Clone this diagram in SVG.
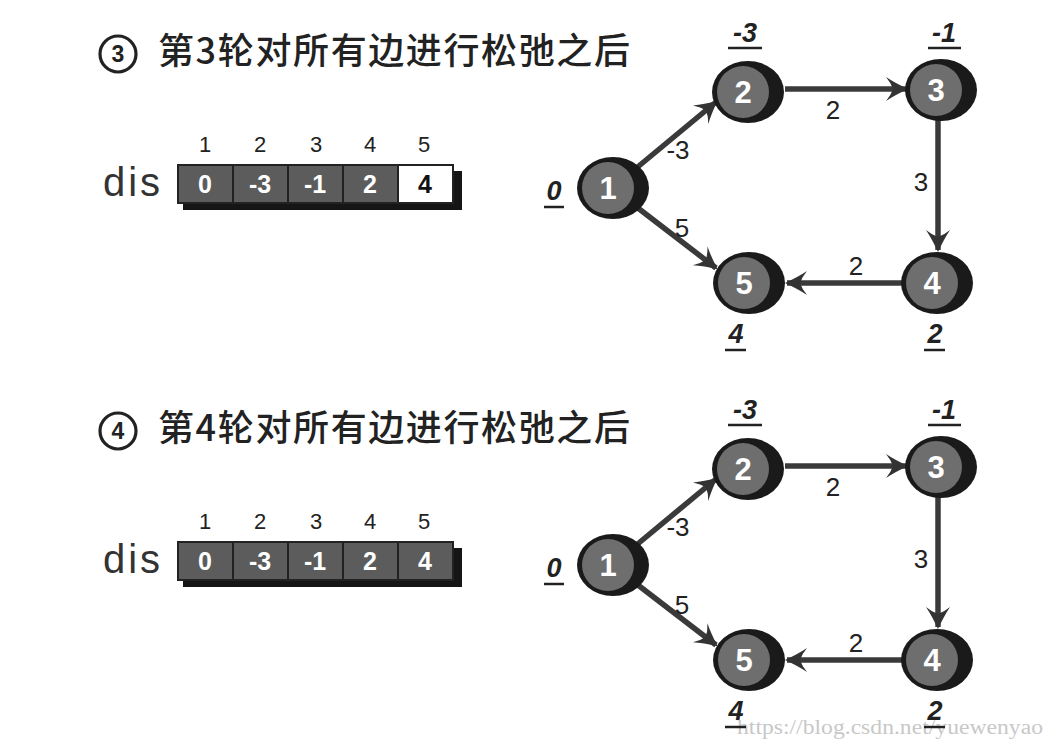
<svg xmlns="http://www.w3.org/2000/svg" width="1056" height="749" viewBox="0 0 1056 749">
<style>
.title{font-family:"Noto Sans CJK SC","Noto Sans",sans-serif;font-size:36px;font-weight:500;fill:#222}
.circnum{fill:none;stroke:#222;stroke-width:3.2}
.circtxt{font-family:"Liberation Sans",Arial,sans-serif;font-weight:bold;font-size:23px;fill:#222;text-anchor:middle}
.dis{font-family:"Liberation Sans",Arial,sans-serif;font-size:40px;fill:#333}
.idx{font-family:"Liberation Sans",Arial,sans-serif;font-size:22px;fill:#222;text-anchor:middle}
.cell{fill:#5c5c5c;stroke:#222;stroke-width:2}
.cellw{fill:#fff;stroke:#222;stroke-width:2}
.cshadow{fill:#151515}
.ctxt{font-family:"Liberation Sans",Arial,sans-serif;font-weight:bold;font-size:25px;fill:#fff;text-anchor:middle}
.ctxtb{font-family:"Liberation Sans",Arial,sans-serif;font-weight:bold;font-size:25px;fill:#111;text-anchor:middle}
.nshadow{fill:#1a1a1a}
.nfill{fill:#6e6e6e}
.nlabel{font-family:"Liberation Sans",Arial,sans-serif;font-weight:bold;font-size:31px;fill:#fff;text-anchor:middle}
.edge{stroke:#3a3a3a;stroke-width:5.5;fill:none;marker-end:url(#arr)}
.elabel{font-family:"Liberation Sans",Arial,sans-serif;font-size:26px;fill:#222;text-anchor:middle}
.val{font-family:"Liberation Sans",Arial,sans-serif;font-weight:bold;font-style:italic;font-size:27px;fill:#222;text-anchor:middle}
.ul{stroke:#222;stroke-width:2.5}
.wm{font-family:"Liberation Serif",serif;font-size:20px;fill:#c8c8c8}
</style>
<defs>
<marker id="arr" markerUnits="userSpaceOnUse" markerWidth="26" markerHeight="28" refX="20" refY="13" orient="auto">
<path d="M0,1 Q9,7 22,13 Q9,19 0,25 Q5,19 7,13 Q5,7 0,1 Z" fill="#333"/>
</marker>
</defs>
<rect width="1056" height="749" fill="#fff"/>

<text class="wm" x="737" y="734" textLength="306" lengthAdjust="spacingAndGlyphs">https://blog.csdn.net/yuewenyao</text>

<g id="panel-3">
  <g id="title-3">
    <circle class="circnum" cx="118" cy="54" r="18"/>
    <text class="circtxt" x="118" y="62">3</text>
    <text class="title" x="158" y="64" textLength="472" lengthAdjust="spacing">第3轮对所有边进行松弛之后</text>
  </g>
  <g id="dis-3">
    <text class="dis" x="103" y="196" textLength="57" lengthAdjust="spacing">dis</text>
    <text class="idx" x="205" y="152">1</text>
    <text class="idx" x="260" y="152">2</text>
    <text class="idx" x="316" y="152">3</text>
    <text class="idx" x="370" y="152">4</text>
    <text class="idx" x="424" y="152">5</text>
    <rect class="cshadow" x="183" y="171" width="279" height="39"/>
    <rect class="cell" x="178" y="165" width="55" height="38"/>
    <rect class="cell" x="233" y="165" width="55" height="38"/>
    <rect class="cell" x="288" y="165" width="55" height="38"/>
    <rect class="cell" x="343" y="165" width="55" height="38"/>
    <rect class="cellw" x="398" y="165" width="55" height="38"/>
    <text class="ctxt" x="205" y="193">0</text>
    <text class="ctxt" x="260" y="193">-3</text>
    <text class="ctxt" x="315" y="193">-1</text>
    <text class="ctxt" x="370" y="193">2</text>
    <text class="ctxtb" x="425" y="193">4</text>
  </g>
  <g id="edges-3">
    <line class="edge" x1="634" y1="170" x2="716" y2="102"/>
    <line class="edge" x1="785" y1="89" x2="906" y2="89"/>
    <line class="edge" x1="938" y1="120" x2="938" y2="250"/>
    <line class="edge" x1="902" y1="283" x2="787" y2="283"/>
    <line class="edge" x1="634" y1="205" x2="716" y2="268"/>
    <text class="elabel" x="678" y="159">-3</text>
    <text class="elabel" x="833" y="119">2</text>
    <text class="elabel" x="682" y="237">5</text>
    <text class="elabel" x="921" y="191">3</text>
    <text class="elabel" x="856" y="275">2</text>
  </g>
  <g id="n1-3">
    <ellipse class="nshadow" cx="613" cy="188" rx="36" ry="31"/>
    <circle class="nfill" cx="608" cy="188" r="26"/>
    <text class="nlabel" x="608" y="199">1</text>
    <text class="val" x="554" y="200">0</text>
    <line class="ul" x1="544" y1="207" x2="564" y2="207"/>
  </g>
  <g id="n2-3">
    <ellipse class="nshadow" cx="748" cy="92" rx="36" ry="31"/>
    <circle class="nfill" cx="743" cy="92" r="26"/>
    <text class="nlabel" x="743" y="103">2</text>
    <text class="val" x="745" y="42">-3</text>
    <line class="ul" x1="728" y1="48" x2="762" y2="48"/>
  </g>
  <g id="n3-3">
    <ellipse class="nshadow" cx="941" cy="90" rx="36" ry="31"/>
    <circle class="nfill" cx="936" cy="90" r="26"/>
    <text class="nlabel" x="936" y="101">3</text>
    <text class="val" x="944" y="42">-1</text>
    <line class="ul" x1="928" y1="48" x2="961" y2="48"/>
  </g>
  <g id="n4-3">
    <ellipse class="nshadow" cx="937" cy="283" rx="36" ry="31"/>
    <circle class="nfill" cx="932" cy="283" r="26"/>
    <text class="nlabel" x="932" y="294">4</text>
    <text class="val" x="935" y="343">2</text>
    <line class="ul" x1="924" y1="350" x2="945" y2="350"/>
  </g>
  <g id="n5-3">
    <ellipse class="nshadow" cx="749" cy="283" rx="36" ry="31"/>
    <circle class="nfill" cx="744" cy="283" r="26"/>
    <text class="nlabel" x="744" y="294">5</text>
    <text class="val" x="736" y="343">4</text>
    <line class="ul" x1="725" y1="350" x2="746" y2="350"/>
  </g>
</g>

<g id="panel-4" transform="translate(0,377)">
  <g id="title-4">
    <circle class="circnum" cx="118" cy="54" r="18"/>
    <text class="circtxt" x="118" y="62">4</text>
    <text class="title" x="158" y="64" textLength="472" lengthAdjust="spacing">第4轮对所有边进行松弛之后</text>
  </g>
  <g id="dis-4">
    <text class="dis" x="103" y="196" textLength="57" lengthAdjust="spacing">dis</text>
    <text class="idx" x="205" y="152">1</text>
    <text class="idx" x="260" y="152">2</text>
    <text class="idx" x="316" y="152">3</text>
    <text class="idx" x="370" y="152">4</text>
    <text class="idx" x="424" y="152">5</text>
    <rect class="cshadow" x="183" y="171" width="279" height="39"/>
    <rect class="cell" x="178" y="165" width="55" height="38"/>
    <rect class="cell" x="233" y="165" width="55" height="38"/>
    <rect class="cell" x="288" y="165" width="55" height="38"/>
    <rect class="cell" x="343" y="165" width="55" height="38"/>
    <rect class="cell" x="398" y="165" width="55" height="38"/>
    <text class="ctxt" x="205" y="193">0</text>
    <text class="ctxt" x="260" y="193">-3</text>
    <text class="ctxt" x="315" y="193">-1</text>
    <text class="ctxt" x="370" y="193">2</text>
    <text class="ctxt" x="425" y="193">4</text>
  </g>
  <g id="edges-4">
    <line class="edge" x1="634" y1="170" x2="716" y2="102"/>
    <line class="edge" x1="785" y1="89" x2="906" y2="89"/>
    <line class="edge" x1="938" y1="120" x2="938" y2="250"/>
    <line class="edge" x1="902" y1="283" x2="787" y2="283"/>
    <line class="edge" x1="634" y1="205" x2="716" y2="268"/>
    <text class="elabel" x="678" y="159">-3</text>
    <text class="elabel" x="833" y="119">2</text>
    <text class="elabel" x="682" y="237">5</text>
    <text class="elabel" x="921" y="191">3</text>
    <text class="elabel" x="856" y="275">2</text>
  </g>
  <g id="n1-4">
    <ellipse class="nshadow" cx="613" cy="188" rx="36" ry="31"/>
    <circle class="nfill" cx="608" cy="188" r="26"/>
    <text class="nlabel" x="608" y="199">1</text>
    <text class="val" x="554" y="200">0</text>
    <line class="ul" x1="544" y1="207" x2="564" y2="207"/>
  </g>
  <g id="n2-4">
    <ellipse class="nshadow" cx="748" cy="92" rx="36" ry="31"/>
    <circle class="nfill" cx="743" cy="92" r="26"/>
    <text class="nlabel" x="743" y="103">2</text>
    <text class="val" x="745" y="42">-3</text>
    <line class="ul" x1="728" y1="48" x2="762" y2="48"/>
  </g>
  <g id="n3-4">
    <ellipse class="nshadow" cx="941" cy="90" rx="36" ry="31"/>
    <circle class="nfill" cx="936" cy="90" r="26"/>
    <text class="nlabel" x="936" y="101">3</text>
    <text class="val" x="944" y="42">-1</text>
    <line class="ul" x1="928" y1="48" x2="961" y2="48"/>
  </g>
  <g id="n4-4">
    <ellipse class="nshadow" cx="937" cy="283" rx="36" ry="31"/>
    <circle class="nfill" cx="932" cy="283" r="26"/>
    <text class="nlabel" x="932" y="294">4</text>
    <text class="val" x="935" y="343">2</text>
    <line class="ul" x1="924" y1="350" x2="945" y2="350"/>
  </g>
  <g id="n5-4">
    <ellipse class="nshadow" cx="749" cy="283" rx="36" ry="31"/>
    <circle class="nfill" cx="744" cy="283" r="26"/>
    <text class="nlabel" x="744" y="294">5</text>
    <text class="val" x="736" y="343">4</text>
    <line class="ul" x1="725" y1="350" x2="746" y2="350"/>
  </g>
</g>
</svg>
